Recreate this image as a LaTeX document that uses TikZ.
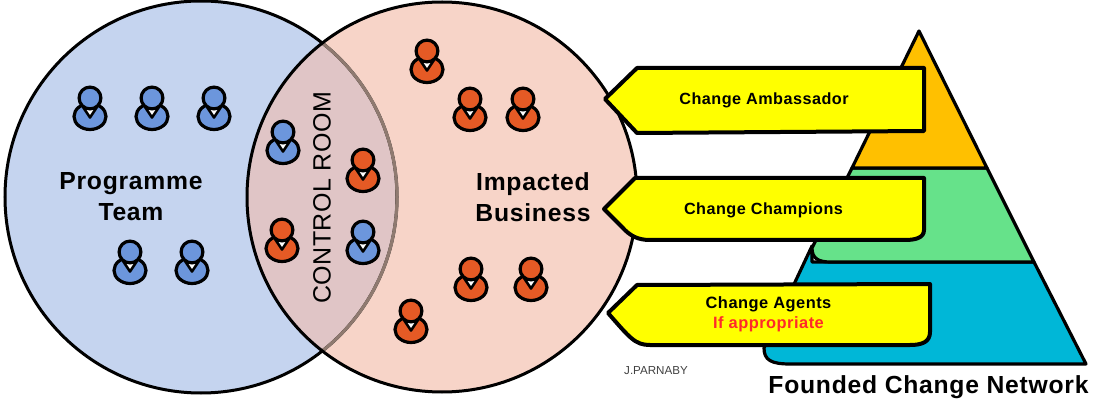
\documentclass[tikz,border=0pt]{standalone}
\usepackage{fontspec}
\setmainfont{Liberation Sans}
\newfontfamily\medfont[LetterSpace=3]{Liberation Sans Bold}
\newfontfamily\widefont[LetterSpace=2]{Liberation Sans}
\usetikzlibrary{shapes.geometric}
\definecolor{leftfill}{HTML}{C5D4EF}
\definecolor{rightfill}{HTML}{F7D4C8}
\definecolor{overlapfill}{HTML}{E0C5C6}
\definecolor{hiddenarc}{HTML}{8F7A70}
\definecolor{pblue}{HTML}{6C96DC}
\definecolor{porange}{HTML}{E55A25}
\definecolor{tierone}{HTML}{FFC000}
\definecolor{tiertwo}{HTML}{66E28A}
\definecolor{tierthree}{HTML}{00B7D7}
\definecolor{flagred}{HTML}{FF2A2A}
\definecolor{bannerfill}{RGB}{255,255,0}
\tikzset{
  pics/person/.style={code={
    \draw[line width=3.2pt,fill=#1] (0,18.5) ellipse [x radius=16pt,y radius=13pt];
    \draw[line width=2.6pt,fill=white,line join=round] (-7,9) -- (0,19.5) -- (7,9) -- cycle;
    \draw[line width=3.2pt,fill=#1] (0,0) circle [radius=10.9pt];
  }},
  tier/.style={line width=3.2pt,line join=round},
  banner/.style={line width=4pt,fill=bannerfill,line join=round},
  bannertext/.style={font=\medfont\fontsize{16.2}{18}\selectfont,align=center,inner sep=0pt},
  biglabel/.style={font=\medfont\fontsize{24.7}{31}\selectfont,align=center,inner sep=0pt}
}
\begin{document}
\begin{tikzpicture}[x=1pt,y=-1pt]
\useasboundingbox (0,0) rectangle (1106,414);
% Venn
\fill[leftfill] (201,197) circle [radius=196pt];
\fill[rightfill] (442,197) circle [radius=195pt];
\begin{scope}
  \clip (201,197) circle [radius=196pt];
  \fill[overlapfill] (442,197) circle [radius=195pt];
\end{scope}
\draw[line width=3pt] (201,197) circle [radius=196pt];
\begin{scope}
  \clip (442,197) circle [radius=195pt];
  \draw[line width=3.2pt,hiddenarc] (201,197) circle [radius=196pt];
\end{scope}
\draw[line width=3pt] (442,197) circle [radius=195pt];
% People
\foreach \px/\py in {90/98,152/98,214/98,130/252,192/252,283/132,363/232}
  \pic at (\px,\py) {person=pblue};
\foreach \px/\py in {363/160,282/230,427/51,470/99,523/99,471/269,531/269,411/311}
  \pic at (\px,\py) {person=porange};
% Labels
\node[biglabel] (prog) at (131,197) {Programme\\Team};
\node[biglabel] (biz) at (533,197) {Impacted\\Business};
\node[font=\widefont\fontsize{25}{28}\selectfont,rotate=90,inner sep=0pt] (room) at (322,198) {CONTROL ROOM};
% Pyramid
\draw[tier,fill=tierthree] (812,246) -- (812,262) -- (1034,262) -- (1086,364) -- (790,364)
  .. controls (771,364) and (764,360) .. (764,348) -- cycle;
\draw[tier,fill=tiertwo] (852,168) -- (987,168) -- (1034,262) -- (830,262)
  .. controls (818,262) and (812,258) .. (812,248) -- cycle;
\draw[tier,fill=tierone] (919,31) -- (987,168) -- (852,168) -- cycle;
% Banners
\draw[banner] (605,99) -- (637,68) -- (924,68) -- (924,131) -- (637,133) -- cycle;
\draw[banner] (604,209) -- (635,178) -- (924,178) -- (924,230)
  .. controls (924,238) and (915,240) .. (905,240) -- (650,240)
  .. controls (638,240) and (630,236) .. (622,227) -- cycle;
\draw[banner] (608,313) -- (637,285) -- (930,284) -- (930,332)
  .. controls (930,342) and (922,345) .. (910,345) -- (650,345)
  .. controls (635,345) and (630,338) .. cycle;
\node[bannertext] (amb) at (764,100) {Change Ambassador};
\node[bannertext] (cha) at (763.5,210) {Change Champions};
\node[bannertext,font=\medfont\fontsize{16.4}{20}\selectfont] (age) at (768.5,314) {Change Agents\\\textcolor{flagred}{If appropriate}};
% Captions
\node[font=\fontsize{11.6}{12}\selectfont,text=black!75,inner sep=0pt] (sig) at (656,371) {J.PARNABY};
\node[font=\medfont\fontsize{24.7}{28}\selectfont,inner sep=0pt] (net) at (928.5,387) {Founded Change Network};
\end{tikzpicture}
\end{document}
